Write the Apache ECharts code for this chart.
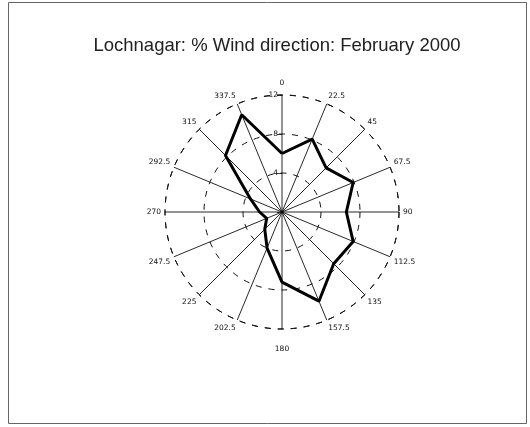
<!DOCTYPE html>
<html>
<head>
<meta charset="utf-8">
<script src="https://cdn.jsdelivr.net/npm/echarts@6/dist/echarts.min.js"></script>
<style>
  html, body { margin: 0; padding: 0; background: #fff; }
  #chart { width: 530px; height: 427px; }
</style>
</head>
<body>
<div id="chart"></div>
<script>
// Compass directions (degrees, clockwise from north)
const directions = [0, 22.5, 45, 67.5, 90, 112.5, 135, 157.5, 180, 202.5, 225, 247.5, 270, 292.5, 315, 337.5];
// Percentage of time the wind blew from each direction
const windPct = [6.0, 8.1, 6.4, 7.9, 6.6, 7.9, 7.5, 9.9, 7.2, 4.0, 2.5, 1.7, 2.3, 3.5, 8.2, 10.8];
// Radial scale
const radiusMax = 12;
const radiusStep = 4;

const chart = echarts.init(document.getElementById('chart'), null, { renderer: 'canvas' });

// Close the rose by repeating the north value at 360 degrees
const roseData = directions.map((d, i) => [windPct[i], d]);
roseData.push([windPct[0], 360]);

chart.setOption({
  animation: false,
  backgroundColor: '#fff',
  title: {
    text: 'Lochnagar: % Wind direction: February 2000',
    left: 272,
    textAlign: 'center',
    top: 31,
    textStyle: { fontFamily: 'Liberation Sans', fontSize: 18.5, fontWeight: 'normal', color: '#222' }
  },
  graphic: [{
    type: 'rect',
    shape: { x: 8.5, y: 2.5, width: 518, height: 421 },
    style: { fill: 'none', stroke: '#666', lineWidth: 1 },
    silent: true
  }],
  polar: { center: [282, 212], radius: 117 },
  angleAxis: {
    type: 'value',
    min: 0,
    max: 360,
    interval: 22.5,
    startAngle: 90,
    clockwise: true,
    axisLine: { show: true, lineStyle: { color: '#111', width: 1, type: [6, 7] } },
    axisTick: { show: false },
    splitLine: { show: true, lineStyle: { color: '#111', width: 0.9 } },
    axisLabel: {
      show: true,
      margin: 4,
      fontFamily: 'DejaVu Sans',
      fontSize: 7.5,
      color: '#111',
      formatter: v => {
        if (v === 360) return '';
        if (v === 0) return '{n|0}';
        if (v === 180) return '{s|180}';
        return String(v);
      },
      rich: {
        n: { fontFamily: 'DejaVu Sans', fontSize: 7.5, color: '#111', padding: [0, 0, 4, 0] },
        s: { fontFamily: 'DejaVu Sans', fontSize: 7.5, color: '#111', padding: [12, 0, 0, 0] }
      }
    }
  },
  radiusAxis: {
    type: 'value',
    min: 0,
    max: radiusMax,
    interval: radiusStep,
    axisLine: { show: false },
    axisTick: { show: true, length: 5, lineStyle: { color: '#111', width: 0.8 } },
    splitLine: { show: true, lineStyle: { color: '#111', width: 1, type: [6, 7] } },
    axisLabel: {
      show: true,
      fontFamily: 'DejaVu Sans',
      fontSize: 7.5,
      color: '#111',
      margin: 4,
      formatter: v => (v === 0 ? '' : String(v))
    }
  },
  series: [{
    type: 'line',
    coordinateSystem: 'polar',
    data: roseData,
    showSymbol: false,
    symbol: 'none',
    lineStyle: { color: '#000', width: 3 },
    z: 5
  }]
});
</script>
</body>
</html>
